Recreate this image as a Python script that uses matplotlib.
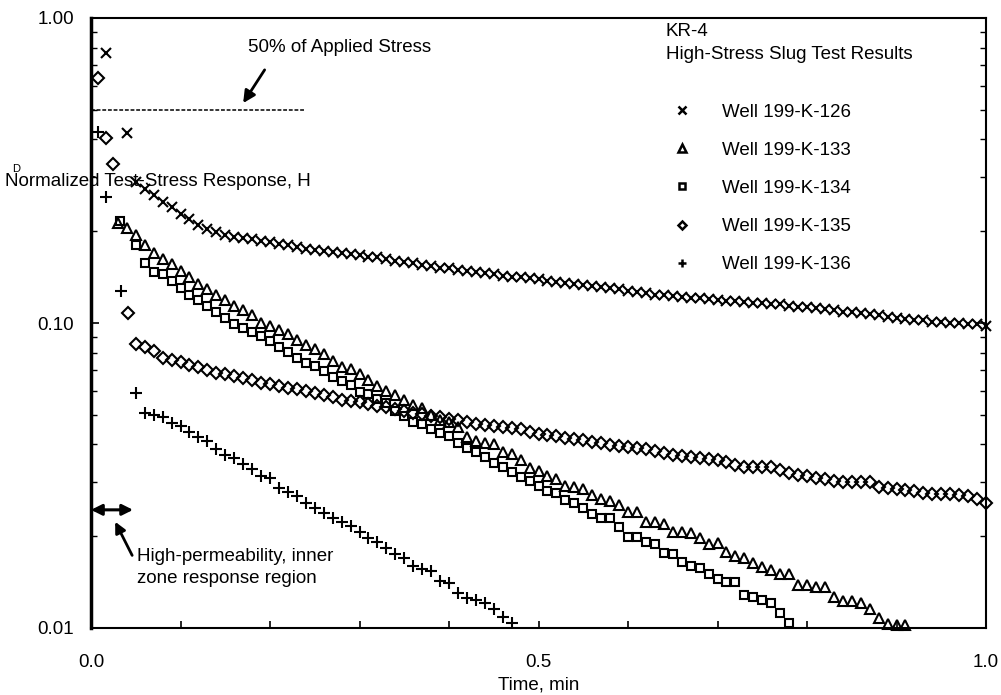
import numpy as np
import matplotlib
matplotlib.use("Agg")
import matplotlib.pyplot as plt
from matplotlib.lines import Line2D

plt.rcParams['font.family'] = ['Liberation Sans', 'DejaVu Sans']

# step of the regular readings, minutes
dt = 0.01

# Well 199-K-126 (x)
t126_early = [0.017, 0.04]
h126_early = [0.77, 0.42]
t126_start = 0.05
h126 = [0.290, 0.275, 0.262, 0.250, 0.240, 0.228, 0.219, 0.210, 0.203, 0.199,
        0.195, 0.192, 0.190, 0.188, 0.186, 0.184, 0.182, 0.180, 0.177, 0.175,
        0.174, 0.172, 0.171, 0.170, 0.168, 0.167, 0.165, 0.164, 0.162, 0.160,
        0.158, 0.157, 0.155, 0.154, 0.152, 0.151, 0.149, 0.148, 0.147, 0.146,
        0.145, 0.143, 0.142, 0.141, 0.140, 0.139, 0.137, 0.136, 0.135, 0.134,
        0.133, 0.132, 0.131, 0.130, 0.129, 0.127, 0.126, 0.125, 0.124, 0.124,
        0.123, 0.122, 0.121, 0.121, 0.120, 0.119, 0.118, 0.118, 0.117, 0.116,
        0.116, 0.115, 0.115, 0.114, 0.113, 0.113, 0.112, 0.111, 0.110, 0.109,
        0.109, 0.108, 0.107, 0.106, 0.105, 0.104, 0.103, 0.102, 0.102, 0.101,
        0.101, 0.100, 0.100, 0.099, 0.099, 0.098]

# Well 199-K-133 (triangle)
t133_early = []
h133_early = []
t133_start = 0.03
h133 = [0.212, 0.205, 0.194, 0.180, 0.170, 0.162, 0.156, 0.148, 0.142, 0.134,
        0.129, 0.124, 0.119, 0.114, 0.110, 0.106, 0.100, 0.098, 0.095, 0.092,
        0.088, 0.085, 0.082, 0.079, 0.075, 0.072, 0.0705, 0.068, 0.065, 0.062,
        0.060, 0.058, 0.056, 0.054, 0.0525, 0.050, 0.048, 0.0472, 0.0456, 0.0423,
        0.0410, 0.0404, 0.0400, 0.0378, 0.0372, 0.0355, 0.0335, 0.0328, 0.0315, 0.0308,
        0.0292, 0.0290, 0.0286, 0.0272, 0.0265, 0.0260, 0.0253, 0.0240, 0.0240, 0.0223,
        0.0223, 0.0220, 0.0206, 0.0206, 0.0205, 0.0197, 0.0188, 0.0190, 0.0177, 0.0172,
        0.0170, 0.0163, 0.0158, 0.0155, 0.0150, 0.0150, 0.0138, 0.0138, 0.0136, 0.0136,
        0.0126, 0.0123, 0.0123, 0.0121, 0.0115, 0.0108, 0.0103, 0.0102, 0.0102]

# Well 199-K-134 (square)
t134_early = [0.032]
h134_early = [0.216]
t134_start = 0.05
h134 = [0.180, 0.157, 0.147, 0.145, 0.137, 0.130, 0.124, 0.119, 0.114, 0.109,
        0.104, 0.099, 0.0965, 0.0935, 0.0905, 0.0870, 0.0834, 0.0805, 0.0770, 0.0742,
        0.0725, 0.0695, 0.0665, 0.0645, 0.0625, 0.0595, 0.0585, 0.0565, 0.0545, 0.0515,
        0.0495, 0.0475, 0.0465, 0.0450, 0.0436, 0.0425, 0.0405, 0.0390, 0.0378, 0.0365,
        0.0348, 0.0337, 0.0325, 0.0313, 0.0303, 0.0292, 0.0282, 0.0277, 0.0262, 0.0256,
        0.0247, 0.0237, 0.0230, 0.0230, 0.0214, 0.0199, 0.0199, 0.0192, 0.0188, 0.0176,
        0.0175, 0.0164, 0.0160, 0.0157, 0.0150, 0.0145, 0.0141, 0.0141, 0.0128, 0.0126,
        0.0124, 0.0121, 0.0112, 0.0104]

# Well 199-K-135 (diamond)
t135_early = [0.008, 0.017, 0.025, 0.041]
h135_early = [0.636, 0.404, 0.332, 0.108]
t135_start = 0.05
h135 = [0.0855, 0.0835, 0.0810, 0.0770, 0.0755, 0.0745, 0.0730, 0.0715, 0.0700, 0.0688,
        0.0678, 0.0670, 0.0658, 0.0648, 0.0638, 0.0630, 0.0620, 0.0613, 0.0607, 0.0600,
        0.0590, 0.0580, 0.0570, 0.0560, 0.0555, 0.0550, 0.0543, 0.0535, 0.0530, 0.0522,
        0.0515, 0.0508, 0.0503, 0.0497, 0.0490, 0.0486, 0.0480, 0.0472, 0.0465, 0.0462,
        0.0458, 0.0455, 0.0452, 0.0448, 0.0440, 0.0434, 0.0430, 0.0425, 0.0420, 0.0416,
        0.0412, 0.0408, 0.0403, 0.0398, 0.0395, 0.0392, 0.0388, 0.0385, 0.0380, 0.0375,
        0.0370, 0.0367, 0.0363, 0.0360, 0.0357, 0.0355, 0.0350, 0.0343, 0.0338, 0.0337,
        0.0336, 0.0336, 0.0330, 0.0322, 0.0318, 0.0314, 0.0310, 0.0307, 0.0304, 0.0302,
        0.0301, 0.0300, 0.0300, 0.0291, 0.0287, 0.0285, 0.0283, 0.0281, 0.0278, 0.0276,
        0.0276, 0.0274, 0.0273, 0.0270, 0.0265, 0.0257]

# Well 199-K-136 (+)
t136_early = [0.008, 0.017, 0.034, 0.050]
h136_early = [0.423, 0.259, 0.127, 0.0589]
t136_start = 0.06
h136 = [0.0507, 0.0500, 0.0492, 0.0470, 0.0458, 0.0440, 0.0423, 0.0410, 0.0385, 0.0369,
        0.0360, 0.0345, 0.0333, 0.0315, 0.0310, 0.0288, 0.0280, 0.0270, 0.0257, 0.0248,
        0.0238, 0.0230, 0.0222, 0.0216, 0.0207, 0.0198, 0.0191, 0.0183, 0.0175, 0.0169,
        0.0160, 0.0156, 0.0154, 0.0143, 0.0140, 0.0130, 0.0125, 0.0124, 0.0121, 0.0115,
        0.0109, 0.0104]

wells = ['Well 199-K-126', 'Well 199-K-133', 'Well 199-K-134', 'Well 199-K-135', 'Well 199-K-136']
series = [(t126_early, h126_early, t126_start, h126),
          (t133_early, h133_early, t133_start, h133),
          (t134_early, h134_early, t134_start, h134),
          (t135_early, h135_early, t135_start, h135),
          (t136_early, h136_early, t136_start, h136)]
markers = ['x', '^', 's', 'D', '+']
msizes = [6.8, 7.0, 6.2, 6.0, 8.0]

fig = plt.figure(figsize=(10.01, 6.95), dpi=100)
ax = fig.add_axes([91 / 1001, 67 / 695, 895 / 1001, 610 / 695])

handles = []
for (te, he, t0, h), mk, ms, lab in zip(series, markers, msizes, wells):
    t = list(te) + list(np.round(t0 + dt * np.arange(len(h)), 3))
    v = list(he) + list(h)
    ax.plot(t, v, ls='none', marker=mk, ms=ms, mfc='none', mec='black', mew=1.5, clip_on=False)
    handles.append(Line2D([], [], ls='none', marker=mk, ms=ms * 0.75, mfc='none', mec='black', mew=1.8, label=lab))

ax.set_yscale('log')
ax.set_ylim(0.01, 1.0)
ax.set_xlim(0, 1.0)
ax.set_yticks([0.01, 0.1, 1.0])
ax.set_yticklabels(['0.01', '0.10', '1.00'])
ax.set_xticks([0.0, 0.5, 1.0])
ax.set_xticklabels(['0.0', '0.5', '1.0'])
ax.set_xticks(np.arange(0.1, 1.0, 0.1), minor=True)
ax.tick_params(axis='both', which='both', direction='in', labelsize=13.5)
ax.tick_params(axis='y', which='both', right=True, pad=12)
ax.tick_params(axis='y', which='major', length=6, width=1.2)
ax.tick_params(axis='y', which='minor', length=4, width=1)
ax.tick_params(axis='x', which='both', length=5, width=1.2, pad=19)
ax.yaxis.set_minor_formatter(matplotlib.ticker.NullFormatter())
for s in ax.spines.values():
    s.set_linewidth(1.5)
ax.spines['left'].set_linewidth(2.5)

ax.set_xlabel('Time, min', fontsize=13.5, labelpad=4)
fig.text(5 / 1001, 1 - 181 / 695, 'Normalized Test-Stress Response, H', fontsize=13.5, va='center', ha='left')
fig.text(12 / 1001, 1 - 169 / 695, 'D', fontsize=8, va='center', ha='left')

# 50% of applied stress
ax.plot([0, 0.239], [0.5, 0.5], ls=(0, (2.5, 1.2)), lw=1.1, color='black', clip_on=False)
ax.text(0.175, 0.80, '50% of Applied Stress', fontsize=13.5, va='center', ha='left')
ax.annotate('', xy=(0.170, 0.526), xytext=(0.194, 0.676),
            arrowprops=dict(arrowstyle='-|>', lw=2, color='black', mutation_scale=18, shrinkA=0, shrinkB=0))

# inner zone
ax.annotate('', xy=(0.0, 0.0244), xytext=(0.047, 0.0244),
            arrowprops=dict(arrowstyle='<|-|>', lw=2.2, color='black', mutation_scale=16, shrinkA=0, shrinkB=0))
ax.annotate('', xy=(0.027, 0.0223), xytext=(0.046, 0.0173),
            arrowprops=dict(arrowstyle='-|>', lw=2, color='black', mutation_scale=16, shrinkA=0, shrinkB=0))
ax.text(0.0514, 0.0158, 'High-permeability, inner\nzone response region', fontsize=13.5,
        va='center', ha='left', linespacing=1.35)

ax.text(0.642, 0.959, 'KR-4\nHigh-Stress Slug Test Results', fontsize=13.5, va='center', ha='left',
        linespacing=1.5, transform=ax.transAxes)
ax.legend(handles=handles, loc='upper left', bbox_to_anchor=(0.642, 0.872), frameon=False,
          fontsize=13.5, handlelength=1.0, handletextpad=1.6, labelspacing=1.12, borderaxespad=0)

fig.savefig('out.png', dpi=100)
